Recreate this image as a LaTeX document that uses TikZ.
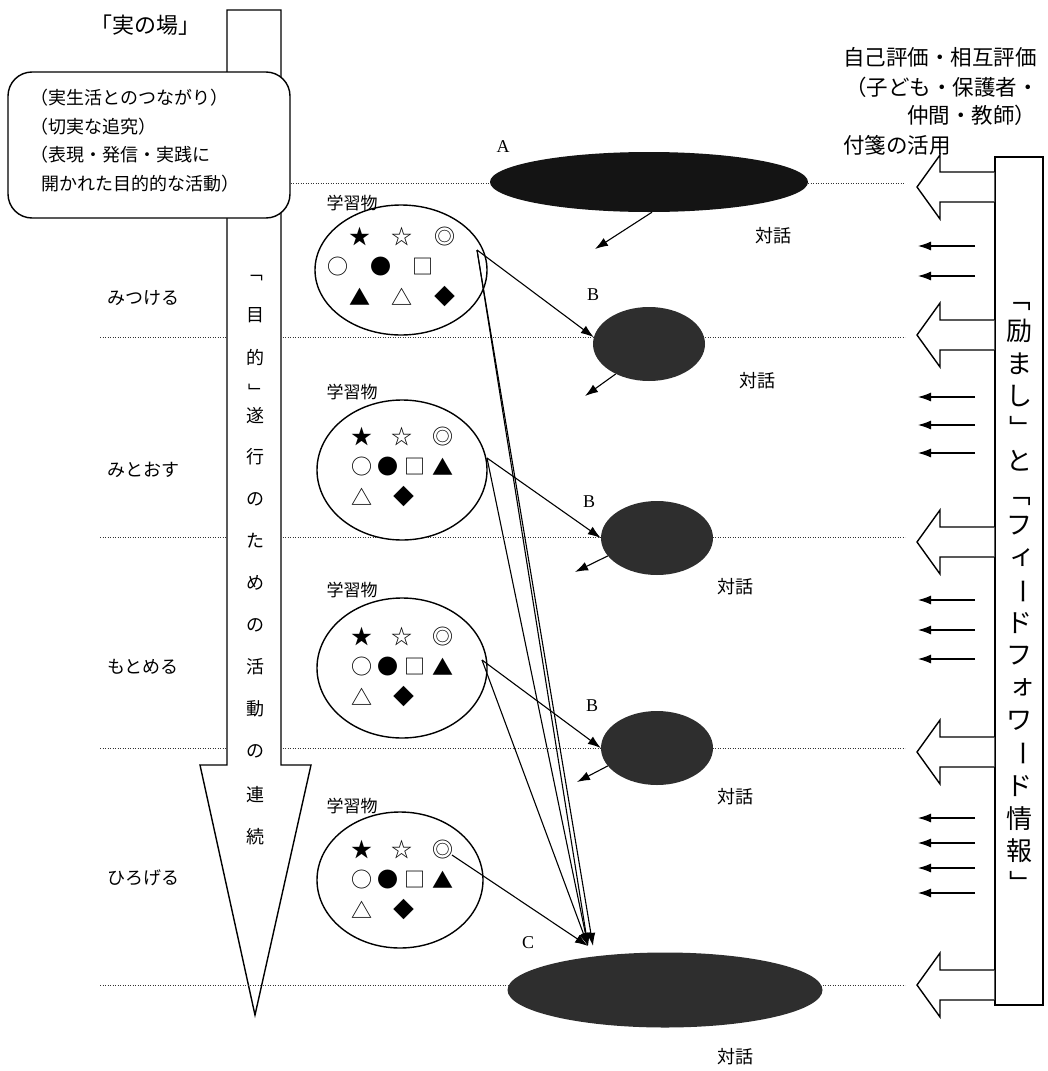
\documentclass[tikz,border=0pt]{standalone}
\usepackage{fontspec}
\setmainfont{Liberation Serif}
\newfontfamily\jp{Noto Sans CJK JP}
\usetikzlibrary{arrows.meta,shapes.geometric}
\newcommand{\myfs}[1]{\fontsize{#1}{#1}\selectfont}
\newcommand{\vopen}{\rotatebox[origin=c]{-90}{「}}
\newcommand{\vclose}{\rotatebox[origin=c]{-90}{」}}
\newcommand{\vlong}{\rotatebox[origin=c]{-90}{ー}}
\newcommand{\vsmall}[1]{\hspace*{0.12em}\raisebox{0.14em}{#1}\hspace*{-0.12em}}
\begin{document}
\begin{tikzpicture}[x=1pt,y=-1pt,
 outl/.style={draw=black,line width=1.4pt,line join=miter},
 dotl/.style={draw=black!80,line width=0.9pt,dash pattern=on 1.2pt off 1.3pt},
 conn/.style={draw=black,line width=1.1pt,-{Latex[length=13pt,width=9pt]}},
 jt/.style={inner sep=0pt,font=\jp\myfs{#1}},
 lat/.style={inner sep=0pt,font=\myfs{#1}},
 blob/.style={ellipse,fill=black!82,inner sep=0pt},
 ring/.style={ellipse,draw=black,line width=1.4pt,fill=white,inner sep=0pt},
 sym/.style={inner sep=0pt,font=\jp\myfs{21}}]
\useasboundingbox (0,0) rectangle (1048,1071);
\fill[white] (0,0) rectangle (1048,1071);

% dotted level lines
\draw[dotl] (100,337) -- (905,337);
\draw[dotl] (100,537) -- (905,537);
\draw[dotl] (100,748) -- (905,748);

% vertical arrow
\draw[outl,fill=white] (227,10) -- (281,10) -- (281,765) -- (311,765) -- (255,1015) -- (200,765) -- (227,765) -- cycle;
\draw[dotl] (100,985) -- (905,985);

% title and rounded box
\node[jt=22] (title) at (145,25) {「実の場」};
\node[outl,fill=white,rounded corners=24pt,minimum width=282pt,minimum height=146pt] (box) at (149,145) {};
\node[anchor=north west,align=left,inner sep=0pt,font=\jp\fontsize{18}{28.5}\selectfont] (boxtxt) at (30,89)
 {（実生活とのつながり）\\（切実な追究）\\（表現・発信・実践に\\\hspace*{11pt}開かれた目的的な活動）};
\draw[dotl] (box.east |- 0,183) -- (905,183);

% learning circles
\node[ring,minimum width=172pt,minimum height=130pt] (c1) at (401,270) {};
\node[ring,minimum width=170pt,minimum height=140pt] (c2) at (402,470) {};
\node[ring,minimum width=170pt,minimum height=140pt] (c3) at (402,668) {};
\node[ring,minimum width=166pt,minimum height=136pt] (c4) at (400,880) {};

\node[jt=17] (l1) at (352,203) {学習物};
\node[jt=17] (l2) at (352,392) {学習物};
\node[jt=17] (l3) at (352,590) {学習物};
\node[jt=17] (l4) at (352,806) {学習物};

% symbols circle 1
\node[sym] (s1a) at (360,237) {★};
\node[sym] (s1b) at (402,237) {☆};
\node[sym] (s1c) at (445,237) {◎};
\node[sym] (s1d) at (338,267) {○};
\node[sym] (s1e) at (381,267) {●};
\node[sym] (s1f) at (423,267) {□};
\node[sym] (s1g) at (360,297) {▲};
\node[sym] (s1h) at (402,297) {△};
\node[sym] (s1i) at (445,297) {◆};
% symbols circles 2-4
\foreach \n/\r in {2/437,3/637,4/850}{
 \node[sym] (s\n a) at (362,\r) {★};
 \node[sym] (s\n b) at (402,\r) {☆};
 \node[sym] (s\n c) at (443,\r) {◎};
 \node[sym] (s\n d) at (362,\r+30) {○};
 \node[sym] (s\n e) at (388,\r+30) {●};
 \node[sym] (s\n f) at (415,\r+30) {□};
 \node[sym] (s\n g) at (443,\r+30) {▲};
 \node[sym] (s\n h) at (362,\r+60) {△};
 \node[sym] (s\n i) at (404,\r+60) {◆};
}

% dialogue ellipses
\node[blob,fill=black!92,minimum width=318pt,minimum height=60pt] (A) at (649,182) {};
\node[blob,minimum width=112pt,minimum height=74pt] (B1) at (649,344) {};
\node[blob,minimum width=112pt,minimum height=74pt] (B2) at (657,538) {};
\node[blob,minimum width=112pt,minimum height=74pt] (B3) at (657,748) {};
\node[blob,minimum width=315pt,minimum height=75pt] (C) at (665,990) {};

\node[lat=18] (la) at (503,147) {A};
\node[lat=18] (lb1) at (593,295) {B};
\node[lat=18] (lb2) at (589,502) {B};
\node[lat=18] (lb3) at (592,706) {B};
\node[lat=18] (lc) at (528,943) {C};

\node[jt=18] (d0) at (773,236) {対話};
\node[jt=18] (d1) at (757,381) {対話};
\node[jt=18] (d2) at (735,587) {対話};
\node[jt=18] (d3) at (735,797) {対話};
\node[jt=18] (d4) at (735,1057) {対話};

% left stage labels
\node[jt=18] (m1) at (143,298) {みつける};
\node[jt=18] (m2) at (143,470) {みとおす};
\node[jt=18] (m3) at (143,667) {もとめる};
\node[jt=18] (m4) at (143,878) {ひろげる};

% vertical text in the arrow
\foreach \c/\y [count=\i] in {\vopen/272,目/315,的/357,\vclose/392,遂/416,行/457,の/499,た/541,め/583,の/625,活/667,動/709,の/751,連/795,続/837}
 \node[jt=18] (v\i) at (255,\y) {\c};

% right panel
\node[outl,fill=white,minimum width=48pt,minimum height=848pt,inner sep=0pt] (rb) at (1019,581) {};
\foreach \y in {187,335,542,752,985}
 \draw[outl,fill=white] (rb.west |- 0,\y-15) -- (940,\y-15) -- (940,\y-32) -- (917,\y) -- (940,\y+32) -- (940,\y+15) -- (rb.west |- 0,\y+15);
\foreach \y [count=\i] in {246,276,397,425,453,600,630,659,818,843,868,893}{
 \coordinate (sa\i) at (975,\y);
 \coordinate (sb\i) at (918,\y);
 \draw[conn] (sa\i) -- (sb\i);
}
\foreach \c [count=\i] in {\vopen,励,ま,し,\vclose,と,\vopen,フ,{\vsmall{ィ}},\vlong,ド,フ,{\vsmall{ォ}},ワ,\vlong,ド,情,報,\vclose}
 \node[jt=26] (r\i) at (1019,266+\i*32.5) {\c};

% top right texts
\node[jt=21.5,anchor=west] (t1) at (843,57) {自己評価・相互評価};
\node[jt=21.5,anchor=west] (t2) at (845,87) {（子ども・保護者・};
\node[jt=21.5,anchor=west] (t3) at (907,115) {仲間・教師）};
\node[jt=21.5,anchor=west] (t4) at (843,145) {付箋の活用};

% connectors
\coordinate (p1) at (477,250);
\coordinate (p2) at (487,458);
\coordinate (p3) at (482,660);
\coordinate (p4) at (452,855);
\coordinate (cc) at (588,946);
\coordinate (cd) at (593,946);
\coordinate (qa) at (595,249);
\coordinate (q1) at (585,396);
\coordinate (q2) at (575,572);
\coordinate (q3) at (577,782);

\draw[conn] ([xshift=3pt]A.south) -- (qa);
\draw[conn] (B1.222) -- (q1);
\draw[conn] (B2.200) -- (q2);
\draw[conn] (B3.200) -- (q3);

\draw[conn] (p1) -- (B1.173);
\draw[conn] (p2) -- (B2.west);
\draw[conn] (p3) -- (B3.west);
\draw[conn] (p1) -- (cc);
\draw[conn] (p1) -- (cd);
\draw[conn] (p2) -- (cc);
\draw[conn] (p3) -- (cc);
\draw[conn] (p4) -- (cc);
\end{tikzpicture}
\end{document}
